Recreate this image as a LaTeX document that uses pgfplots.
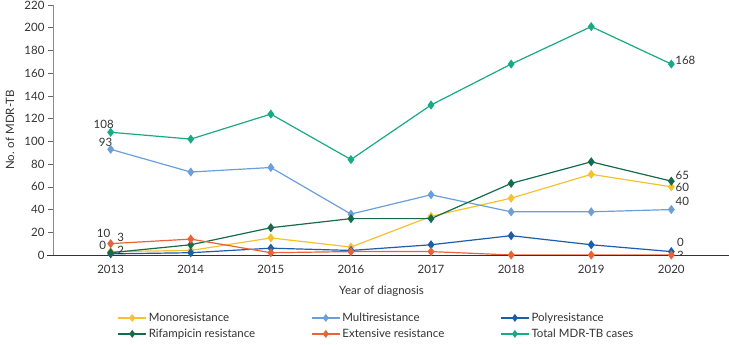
\documentclass[border=0pt]{standalone}
\usepackage{pgfplots}
\pgfplotsset{compat=1.18}
\usepackage{fontspec}
\setmainfont{Lato}
\usetikzlibrary{calc}
\definecolor{cmono}{HTML}{F5C12E}
\definecolor{cmulti}{HTML}{6A9FDB}
\definecolor{cpoly}{HTML}{1A5EAE}
\definecolor{crif}{HTML}{156B4B}
\definecolor{cext}{HTML}{EA623B}
\definecolor{ctot}{HTML}{18A985}
\definecolor{txt}{HTML}{333333}
\begin{document}
\begin{tikzpicture}[font=\fontsize{11.5}{13.5}\selectfont, every node/.append style={text=txt}]
\begin{axis}[
  scale only axis, width=676pt, height=250pt,
  xmin=2012.28, xmax=2020.72, ymin=0, ymax=220,
  axis x line=bottom, axis y line=left,
  x axis line style={black!80, -, line width=0.8pt, shorten <=-6pt},
  y axis line style={black!45, -, line width=0.8pt},
  xtick={2013,...,2020}, xtick style={draw=none},
  ytick distance=20, ytick style={black!60, line width=0.6pt},
  tick align=outside, major tick length=5pt,
  x tick label style={/pgf/number format/1000 sep={}, yshift=-2pt},
  /pgf/number format/assume math mode=true,
  xlabel={Year of diagnosis}, ylabel={No. of MDR-TB},
  xlabel style={at={(axis description cs:0.486,-0.144)}, anchor=center},
  ylabel style={at={(axis description cs:-0.0636,0.5)}, anchor=center},
  legend columns=3,
  legend style={draw=none, at={(0.4786,-0.215)}, anchor=north, font=\fontsize{11.5}{13.5}\selectfont,
    /tikz/every even column/.append style={column sep=54pt}, row sep=2pt, cells={anchor=west}},
  legend image code/.code={\draw[mark repeat=2, mark phase=2, line width=1.2pt, mark size=3pt, #1] plot coordinates {(0pt,0pt)(14pt,0pt)(28pt,0pt)};},
  every axis plot/.append style={line width=1.2pt, mark=diamond*, mark size=3.6pt,
    mark options={draw=black!80, line width=0.6pt, solid}},
]
\addplot[color=cmono, mark options={fill=cmono}] coordinates {(2013,3)(2014,4)(2015,15)(2016,7)(2017,34)(2018,50)(2019,71)(2020,60)};
\addlegendentry{Monoresistance}
\addplot[color=cmulti, mark options={fill=cmulti}] coordinates {(2013,93)(2014,73)(2015,77)(2016,36)(2017,53)(2018,38)(2019,38)(2020,40)};
\addlegendentry{Multiresistance}
\addplot[color=cpoly, mark options={fill=cpoly}] coordinates {(2013,1)(2014,2)(2015,6)(2016,4)(2017,9)(2018,17)(2019,9)(2020,3)};
\addlegendentry{Polyresistance}
\addplot[color=crif, mark options={fill=crif}] coordinates {(2013,2)(2014,9)(2015,24)(2016,32)(2017,32)(2018,63)(2019,82)(2020,65)};
\addlegendentry{Rifampicin resistance}
\addplot[color=cext, mark options={fill=cext}] coordinates {(2013,10)(2014,14)(2015,2)(2016,3)(2017,3)(2018,0)(2019,0)(2020,0)};
\addlegendentry{Extensive resistance}
\addplot[color=ctot, mark options={fill=ctot}] coordinates {(2013,108)(2014,102)(2015,124)(2016,84)(2017,132)(2018,168)(2019,201)(2020,168)};
\addlegendentry{Total MDR-TB cases}
% data labels
\node[anchor=center, inner sep=0pt, xshift=-7pt, yshift=8pt] at (axis cs:2013,108) {108};
\node[anchor=center, inner sep=0pt, xshift=-5pt, yshift=7pt] at (axis cs:2013,93) {93};
\node[anchor=center, inner sep=0pt, xshift=-7pt, yshift=10pt] at (axis cs:2013,10) {10};
\node[anchor=center, inner sep=0pt, xshift=10pt, yshift=6pt] at (axis cs:2013,10) {3};
\node[anchor=center, inner sep=0pt, xshift=-8pt, yshift=7pt] at (axis cs:2013,2) {0};
\node[anchor=center, inner sep=0pt, xshift=10pt, yshift=2pt] at (axis cs:2013,2) {2};
\node[anchor=center, inner sep=0pt, xshift=14pt, yshift=4pt] at (axis cs:2020,168) {168};
\node[anchor=center, inner sep=0pt, xshift=11pt, yshift=6pt] at (axis cs:2020,65) {65};
\node[anchor=center, inner sep=0pt, xshift=11pt, yshift=-1pt] at (axis cs:2020,60) {60};
\node[anchor=center, inner sep=0pt, xshift=11pt, yshift=8pt] at (axis cs:2020,40) {40};
\node[anchor=center, inner sep=0pt, xshift=9pt, yshift=9pt] at (axis cs:2020,3) {0};
\node[anchor=center, inner sep=0pt, xshift=9pt, yshift=0pt] at (axis cs:2020,0) {3};
\coordinate (bl) at (rel axis cs:0,0);
\end{axis}
\pgfresetboundingbox
\path ($(bl)+(-53pt,-90pt)$) rectangle ($(bl)+(676pt,255pt)$);
\end{tikzpicture}
\end{document}
